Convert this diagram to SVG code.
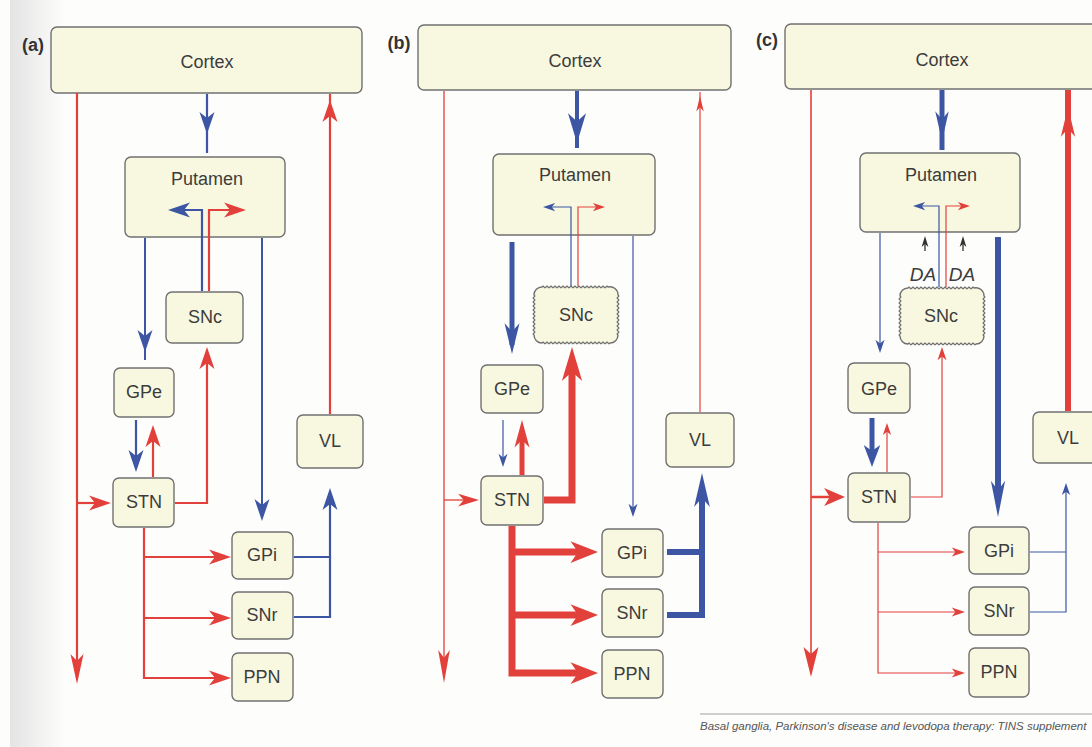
<svg xmlns="http://www.w3.org/2000/svg" width="1092" height="747" viewBox="0 0 1092 747">
<style>
.bx{fill:#f8f8e0;stroke:#707070;stroke-width:1.4}
.lb{font-family:"Liberation Sans",Arial,sans-serif;font-size:18px;fill:#3c3c3c;text-anchor:middle;dominant-baseline:central}
.da{font-family:"Liberation Sans",Arial,sans-serif;font-size:19px;font-style:italic;fill:#3c3c3c;text-anchor:middle;dominant-baseline:central}
.pl{font-family:"Liberation Sans",Arial,sans-serif;font-size:18px;font-weight:bold;fill:#333;text-anchor:middle;dominant-baseline:central}
.r{stroke:#e2403a;fill:none}
.b{stroke:#3d56a3;fill:none}
.k{stroke:#333;fill:none}
.rf{fill:#e2403a}
.bf{fill:#3d56a3}
.kf{fill:#333}
.cap{font-family:"Liberation Sans",Arial,sans-serif;font-size:11.5px;font-style:italic;fill:#555}
</style>
<defs>
<linearGradient id="lg" x1="0" x2="1" y1="0" y2="0">
<stop offset="0" stop-color="#e4e4e4"/>
<stop offset="1" stop-color="#fdfdfc"/>
</linearGradient>
<path id="ah" d="M0,0 L-22,-7.5 L-16,0 L-22,7.5 Z"/>
<path id="al" d="M0,0 L-30,-6.5 L-23,0 L-30,6.5 Z"/>
<path id="wv" d="M8,0q1,-1.6 2,0t2,0t2,0t2,0t2,0t2,0t2,0t2,0t2,0t2,0t2,0t2,0t2,0t2,0t2,0t2,0t2,0t2,0t2,0t2,0t2,0t2,0t2,0t2,0t2,0t2,0t2,0t2,0t2,0t2,0t2,0t2,0t2,0A8,8 0 0 1 84,8q1.6,1 0,2t0,2t0,2t0,2t0,2t0,2t0,2t0,2t0,2t0,2t0,2t0,2t0,2t0,2t0,2t0,2t0,2t0,2t0,2t0,2A8,8 0 0 1 76,56q-1,1.6 -2,0t-2,0t-2,0t-2,0t-2,0t-2,0t-2,0t-2,0t-2,0t-2,0t-2,0t-2,0t-2,0t-2,0t-2,0t-2,0t-2,0t-2,0t-2,0t-2,0t-2,0t-2,0t-2,0t-2,0t-2,0t-2,0t-2,0t-2,0t-2,0t-2,0t-2,0t-2,0t-2,0t-2,0A8,8 0 0 1 0,48q-1.6,-1 0,-2t0,-2t0,-2t0,-2t0,-2t0,-2t0,-2t0,-2t0,-2t0,-2t0,-2t0,-2t0,-2t0,-2t0,-2t0,-2t0,-2t0,-2t0,-2t0,-2A8,8 0 0 1 8,0Z"/>
</defs>
<rect width="1092" height="747" fill="#fdfdfc"/>
<rect x="10" y="0" width="56" height="747" fill="url(#lg)"/>

<!-- panel labels -->
<text class="pl" x="33" y="45">(a)</text>
<text class="pl" x="399" y="43">(b)</text>
<text class="pl" x="767" y="40">(c)</text>

<!-- panel a nodes -->
<g id="a-cortex"><rect class="bx" x="51" y="27" width="311" height="66" rx="6"/><text class="lb" x="207" y="62">Cortex</text></g>
<g id="a-putamen"><rect class="bx" x="125" y="157" width="160" height="80" rx="6"/><text class="lb" x="207" y="179">Putamen</text></g>
<g id="a-snc"><rect class="bx" x="166" y="292" width="77" height="51" rx="6"/><text class="lb" x="205" y="317">SNc</text></g>
<g id="a-gpe"><rect class="bx" x="114" y="368" width="60" height="49" rx="6"/><text class="lb" x="144" y="392">GPe</text></g>
<g id="a-stn"><rect class="bx" x="113" y="478" width="61" height="49" rx="6"/><text class="lb" x="144" y="502">STN</text></g>
<g id="a-vl"><rect class="bx" x="297" y="415" width="66" height="53" rx="6"/><text class="lb" x="330" y="441">VL</text></g>
<g id="a-gpi"><rect class="bx" x="232" y="532" width="61" height="47" rx="6"/><text class="lb" x="262" y="555">GPi</text></g>
<g id="a-snr"><rect class="bx" x="232" y="592" width="61" height="47" rx="6"/><text class="lb" x="262" y="615">SNr</text></g>
<g id="a-ppn"><rect class="bx" x="232" y="653" width="61" height="48" rx="6"/><text class="lb" x="262" y="677">PPN</text></g>

<!-- panel b nodes -->
<g id="b-cortex"><rect class="bx" x="418" y="25" width="313" height="65" rx="6"/><text class="lb" x="575" y="61">Cortex</text></g>
<g id="b-putamen"><rect class="bx" x="493" y="154" width="162" height="81" rx="6"/><text class="lb" x="575" y="175">Putamen</text></g>
<g id="b-snc"><use href="#wv" class="bx" transform="translate(534,287)"/><text class="lb" x="576" y="315">SNc</text></g>
<g id="b-gpe"><rect class="bx" x="481" y="365" width="62" height="48" rx="6"/><text class="lb" x="512" y="389">GPe</text></g>
<g id="b-stn"><rect class="bx" x="481" y="476" width="62" height="49" rx="6"/><text class="lb" x="512" y="500">STN</text></g>
<g id="b-vl"><rect class="bx" x="666" y="413" width="68" height="54" rx="6"/><text class="lb" x="700" y="440">VL</text></g>
<g id="b-gpi"><rect class="bx" x="602" y="529" width="61" height="48" rx="6"/><text class="lb" x="632" y="553">GPi</text></g>
<g id="b-snr"><rect class="bx" x="602" y="589" width="61" height="48" rx="6"/><text class="lb" x="632" y="613">SNr</text></g>
<g id="b-ppn"><rect class="bx" x="602" y="650" width="61" height="48" rx="6"/><text class="lb" x="632" y="674">PPN</text></g>

<!-- panel c nodes -->
<g id="c-cortex"><rect class="bx" x="785" y="24" width="320" height="65" rx="6"/><text class="lb" x="942" y="60">Cortex</text></g>
<g id="c-putamen"><rect class="bx" x="860" y="153" width="160" height="79" rx="6"/><text class="lb" x="941" y="175">Putamen</text></g>
<g id="c-snc"><use href="#wv" class="bx" transform="translate(900,288)"/><text class="lb" x="941" y="316">SNc</text></g>
<g id="c-da"><text class="da" x="923" y="274">DA</text><text class="da" x="962" y="274">DA</text></g>
<g id="c-gpe"><rect class="bx" x="848" y="363" width="62" height="50" rx="6"/><text class="lb" x="879" y="389">GPe</text></g>
<g id="c-stn"><rect class="bx" x="848" y="473" width="62" height="49" rx="6"/><text class="lb" x="879" y="497">STN</text></g>
<g id="c-vl"><rect class="bx" x="1033" y="412" width="70" height="51" rx="6"/><text class="lb" x="1068" y="438">VL</text></g>
<g id="c-gpi"><rect class="bx" x="969" y="527" width="60" height="47" rx="6"/><text class="lb" x="999" y="551">GPi</text></g>
<g id="c-snr"><rect class="bx" x="969" y="587" width="60" height="48" rx="6"/><text class="lb" x="999" y="611">SNr</text></g>
<g id="c-ppn"><rect class="bx" x="969" y="648" width="60" height="49" rx="6"/><text class="lb" x="999" y="672">PPN</text></g>

<g id="connectors">
<!-- panel a -->
<path class="r" stroke-width="2.2" d="M77,93V678"/>
<use href="#al" class="rf" transform="translate(77,684) rotate(90)"/>
<path class="r" stroke-width="2.2" d="M77,503H106"/>
<use href="#ah" class="rf" transform="translate(111,503)"/>
<path class="b" stroke-width="2.2" d="M207,94V153"/>
<use href="#ah" class="bf" transform="translate(207,134) rotate(90)"/>
<path class="b" stroke-width="2" d="M145,238V360"/>
<use href="#ah" class="bf" transform="translate(145,352) rotate(90)"/>
<path class="b" stroke-width="2" d="M262,238V516"/>
<use href="#ah" class="bf" transform="translate(262,521) rotate(90)"/>
<path class="r" stroke-width="2.2" d="M330,414V94"/>
<use href="#ah" class="rf" transform="translate(330,100) rotate(-90)"/>
<path class="b" stroke-width="2.2" d="M202,291V210H175"/>
<use href="#ah" class="bf" transform="translate(168,210) rotate(180)"/>
<path class="r" stroke-width="2.2" d="M209,291V210H240"/>
<use href="#ah" class="rf" transform="translate(246,210)"/>
<path class="b" stroke-width="2.2" d="M136,420V467"/>
<use href="#ah" class="bf" transform="translate(136,472) rotate(90)"/>
<path class="r" stroke-width="2.2" d="M153,477V430"/>
<use href="#ah" class="rf" transform="translate(153,425) rotate(-90)"/>
<path class="r" stroke-width="2.2" d="M175,503H207V352"/>
<use href="#ah" class="rf" transform="translate(207,347) rotate(-90)"/>
<path class="r" stroke-width="2.2" d="M144,528V678H225M144,557H225M144,618H225"/>
<use href="#ah" class="rf" transform="translate(231,557)"/>
<use href="#ah" class="rf" transform="translate(231,618)"/>
<use href="#ah" class="rf" transform="translate(231,678)"/>
<path class="b" stroke-width="2.2" d="M294,557H330M294,617H330V494"/>
<use href="#ah" class="bf" transform="translate(330,488) rotate(-90)"/>

<!-- panel b -->
<path class="r" stroke-width="1.3" d="M444,91V676"/>
<use href="#al" class="rf" transform="translate(444,683) rotate(90) scale(1.1,0.9)"/>
<path class="r" stroke-width="1.3" d="M444,500H474"/>
<use href="#ah" class="rf" transform="translate(479,500) scale(0.95,0.85)"/>
<path class="b" stroke-width="4" d="M577,91V148"/>
<use href="#ah" class="bf" transform="translate(577,143) rotate(90) scale(1.35,1.2)"/>
<path class="b" stroke-width="1.2" d="M571,286V207H547"/>
<use href="#ah" class="bf" transform="translate(543,207) rotate(180) scale(0.55)"/>
<path class="r" stroke-width="1.2" d="M578,286V207H601"/>
<use href="#ah" class="rf" transform="translate(605,207) scale(0.55)"/>
<path class="b" stroke-width="5" d="M512,242V345"/>
<use href="#ah" class="bf" transform="translate(512,354) rotate(90) scale(1.4,1.0)"/>
<path class="r" stroke-width="7" stroke-linejoin="miter" d="M544,500H572V365"/>
<use href="#ah" class="rf" transform="translate(572,347) rotate(-90) scale(1.55,1.35)"/>
<path class="b" stroke-width="1.2" d="M633,236V512"/>
<use href="#ah" class="bf" transform="translate(633,517) rotate(90) scale(0.6)"/>
<path class="b" stroke-width="1.2" d="M503,420V463"/>
<use href="#ah" class="bf" transform="translate(503,467) rotate(90) scale(0.6)"/>
<path class="r" stroke-width="5" d="M522,475V435"/>
<use href="#ah" class="rf" transform="translate(522,420) rotate(-90) scale(1.25,1.0)"/>
<path class="r" stroke-width="7" d="M512,526V673H585M512,552H585M512,615H585"/>
<use href="#ah" class="rf" transform="translate(598,552) scale(1.25,1.45)"/>
<use href="#ah" class="rf" transform="translate(598,615) scale(1.25,1.45)"/>
<use href="#ah" class="rf" transform="translate(598,673) scale(1.25,1.45)"/>
<path class="b" stroke-width="6" d="M667,552H702M667,615H702V490"/>
<use href="#ah" class="bf" transform="translate(702,473) rotate(-90) scale(1.55,1.05)"/>
<path class="r" stroke-width="1.2" d="M700,412V92"/>
<use href="#ah" class="rf" transform="translate(700,96) rotate(-90) scale(0.7,0.5)"/>

<!-- panel c -->
<path class="r" stroke-width="1.6" d="M811,90V670"/>
<use href="#al" class="rf" transform="translate(811,677) rotate(90) scale(1,1.15)"/>
<path class="r" stroke-width="2.5" d="M811,497H838"/>
<use href="#ah" class="rf" transform="translate(845,497) scale(0.95,1.2)"/>
<path class="b" stroke-width="5" d="M942,90V150"/>
<use href="#ah" class="bf" transform="translate(942,141) rotate(90) scale(1.35,0.9)"/>
<path class="b" stroke-width="1.2" d="M939,287V206H917"/>
<use href="#ah" class="bf" transform="translate(913,206) rotate(180) scale(0.55)"/>
<path class="r" stroke-width="1.2" d="M946,287V206H966"/>
<use href="#ah" class="rf" transform="translate(970,206) scale(0.55)"/>
<path class="k" stroke-width="1.3" d="M925,251V242M963,251V242"/>
<use href="#ah" class="kf" transform="translate(925,236) rotate(-90) scale(0.5,0.45)"/>
<use href="#ah" class="kf" transform="translate(963,236) rotate(-90) scale(0.5,0.45)"/>
<path class="b" stroke-width="1.2" d="M880,233V348"/>
<use href="#ah" class="bf" transform="translate(880,353) rotate(90) scale(0.6)"/>
<path class="b" stroke-width="6" d="M998,237V500"/>
<use href="#ah" class="bf" transform="translate(998,517) rotate(90) scale(1.65,0.95)"/>
<path class="r" stroke-width="6" d="M1068,411V90"/>
<use href="#ah" class="rf" transform="translate(1068,107) rotate(-90) scale(1.35,0.95)"/>
<path class="r" stroke-width="1.2" d="M911,497H942V352"/>
<use href="#ah" class="rf" transform="translate(942,347) rotate(-90) scale(0.6)"/>
<path class="b" stroke-width="5" d="M872,418V455"/>
<use href="#ah" class="bf" transform="translate(872,467) rotate(90) scale(1.0,1.1)"/>
<path class="r" stroke-width="1.2" d="M887,472V428"/>
<use href="#ah" class="rf" transform="translate(887,423) rotate(-90) scale(0.55)"/>
<path class="r" stroke-width="1.2" d="M878,523V673H960M878,552H960M878,612H960"/>
<use href="#ah" class="rf" transform="translate(965,552) scale(0.6)"/>
<use href="#ah" class="rf" transform="translate(965,612) scale(0.6)"/>
<use href="#ah" class="rf" transform="translate(965,673) scale(0.6)"/>
<path class="b" stroke-width="1.2" d="M1030,552H1066M1030,612H1066V488"/>
<use href="#ah" class="bf" transform="translate(1066,483) rotate(-90) scale(0.55)"/>
</g>

<!-- caption -->
<g id="caption">
<path d="M700,714H1092" stroke="#a0a0a0" stroke-width="1" fill="none"/>
<text class="cap" x="700" y="730">Basal ganglia, Parkinson's disease and levodopa therapy: TINS supplement</text>
</g>
</svg>
